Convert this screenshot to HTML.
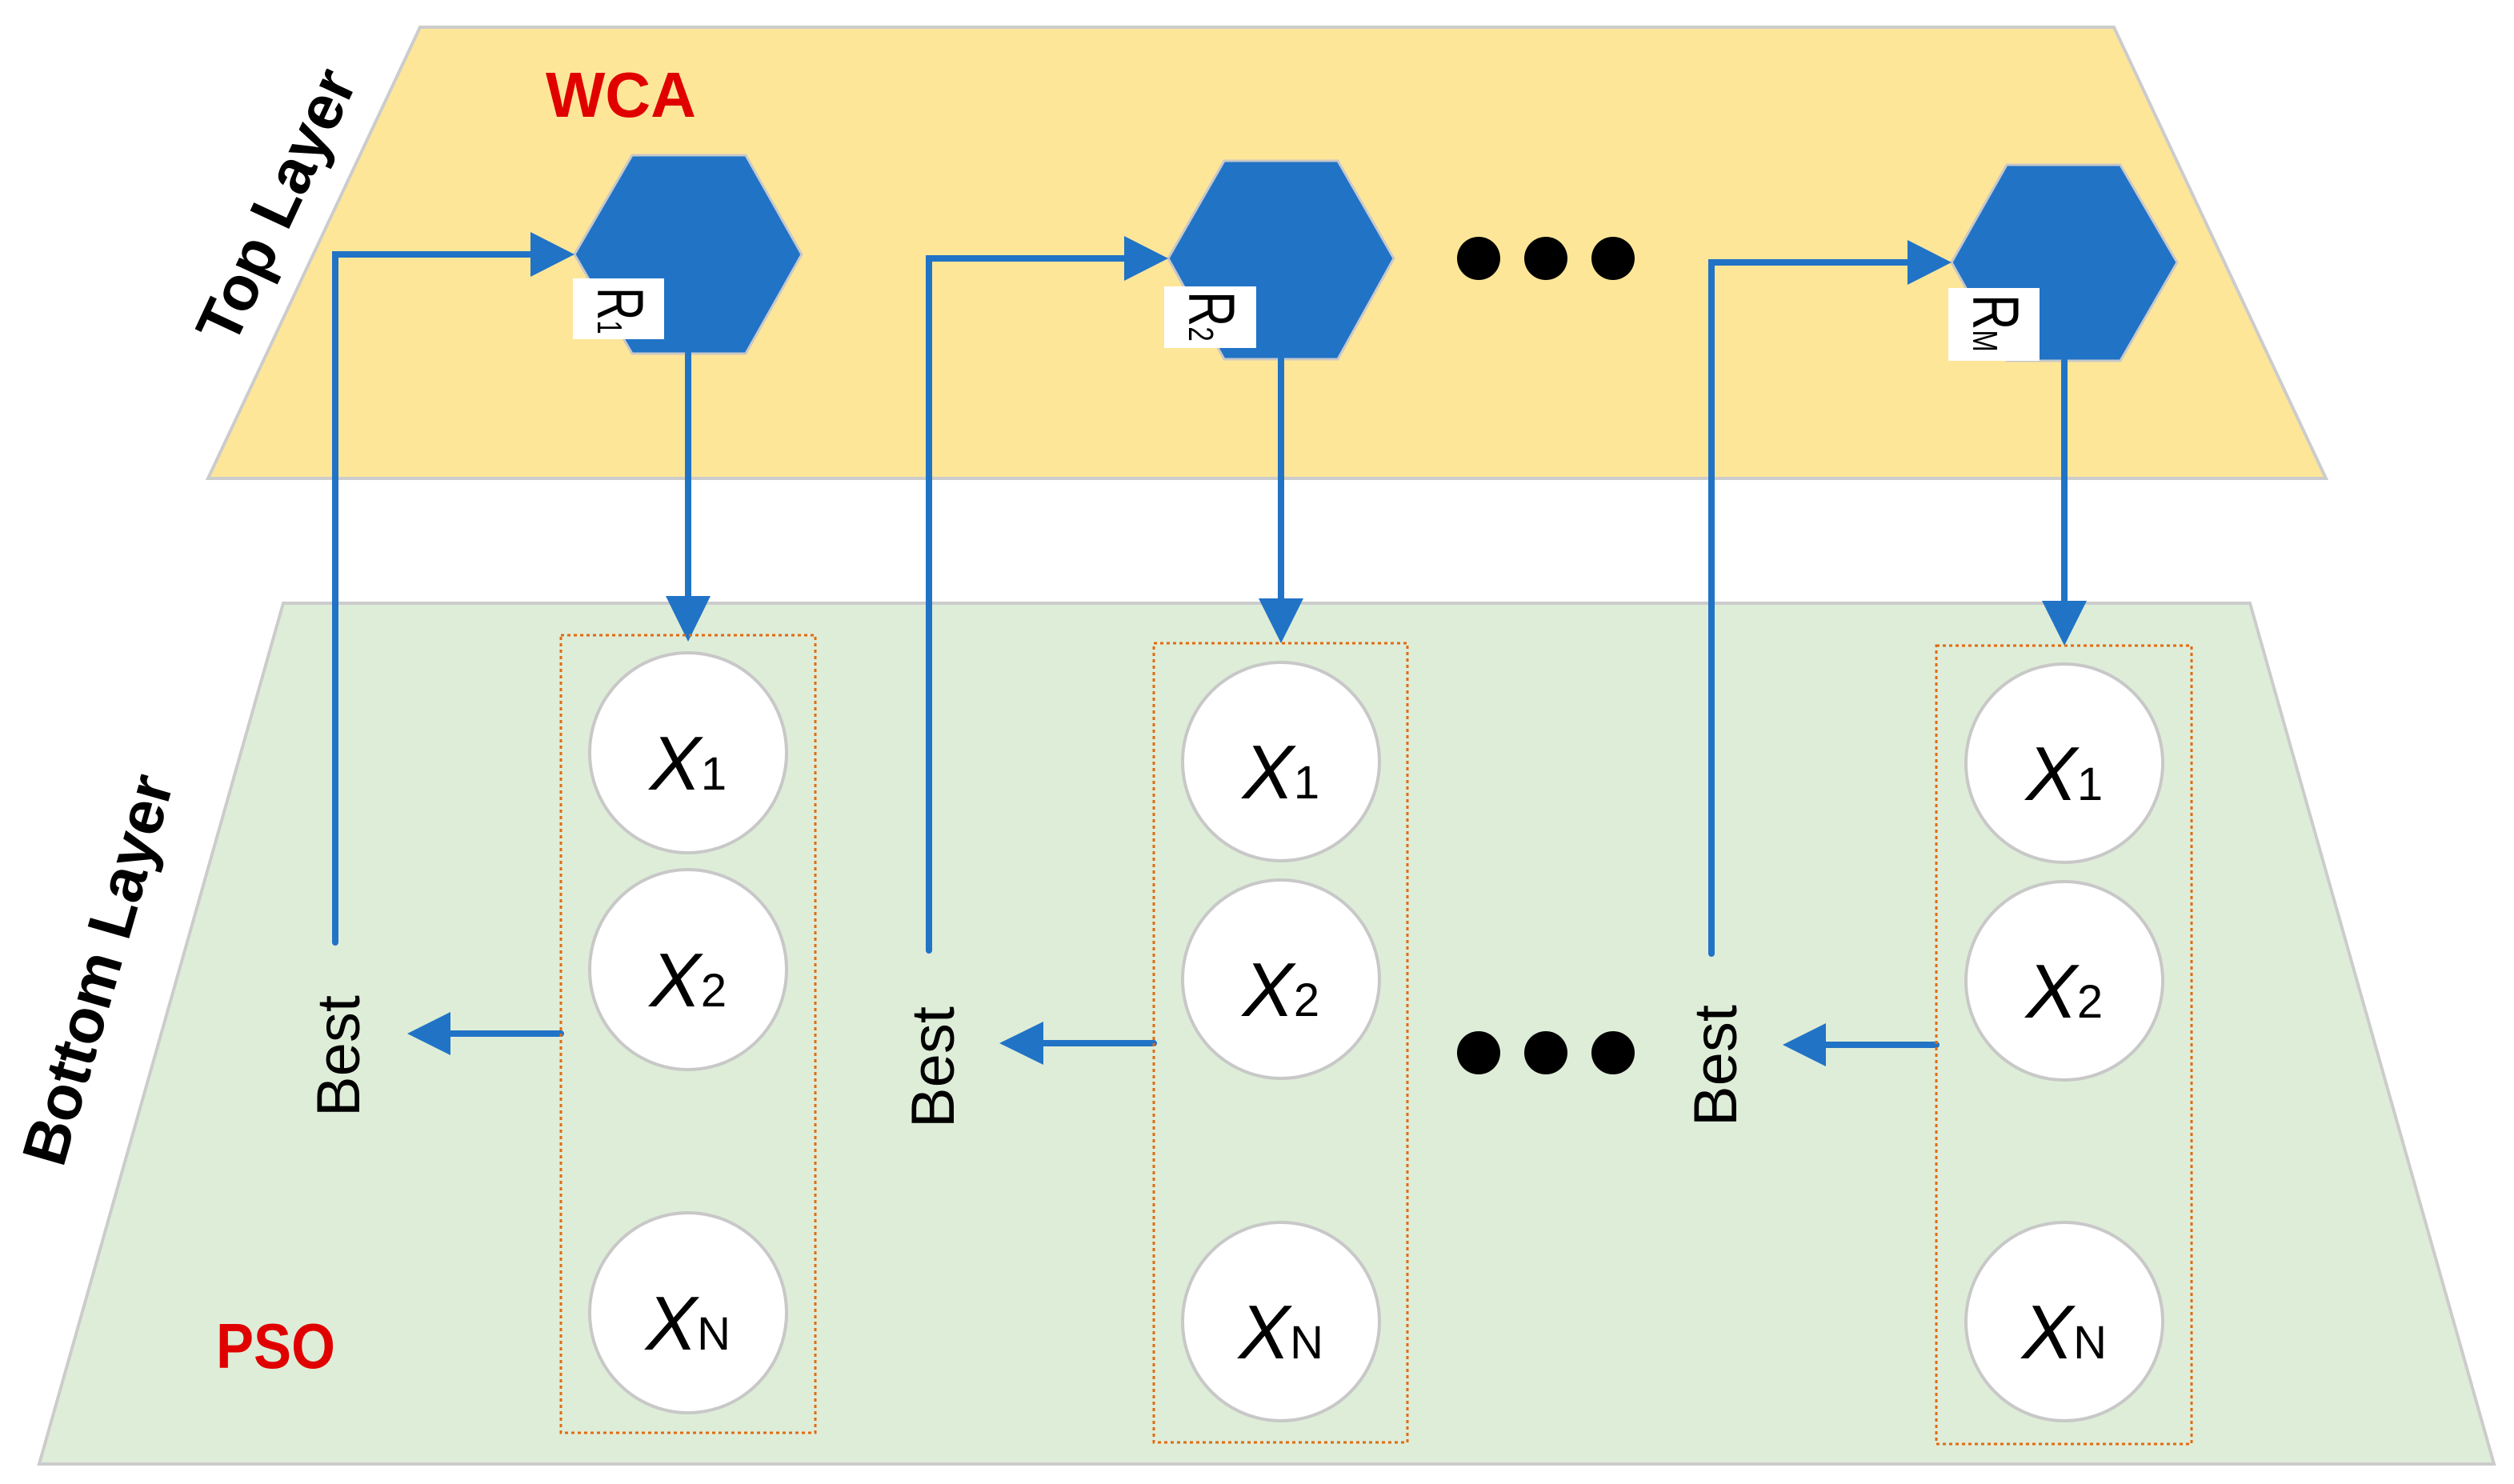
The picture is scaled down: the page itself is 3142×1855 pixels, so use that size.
<!DOCTYPE html>
<html><head><meta charset="utf-8"><style>
html,body{margin:0;padding:0;background:#fff;}
svg{display:block;}
text{font-family:"Liberation Sans",sans-serif;}
</style></head><body>
<svg width="3142" height="1855" viewBox="0 0 3142 1855" xmlns="http://www.w3.org/2000/svg">
<defs>
<clipPath id="c1"><rect x="716" y="348" width="114" height="76"/></clipPath>
<clipPath id="c2"><rect x="1455" y="358" width="115" height="77"/></clipPath>
<clipPath id="c3"><rect x="2435" y="362" width="114" height="93"/></clipPath>
</defs>
<polygon points="525,34 2642,34 2907,598 260,598" fill="#fee699" stroke="#cccccc" stroke-width="4"/>
<polygon points="354,754 2812,754 3117,1830 49,1830" fill="#deedd8" stroke="#cccccc" stroke-width="4"/>

<text x="0" y="0" transform="translate(345,257) rotate(-65)" font-size="78" font-weight="bold" text-anchor="middle" dominant-baseline="central">Top Layer</text>
<text x="0" y="0" transform="translate(122,1212) rotate(-74)" font-size="78" font-weight="bold" text-anchor="middle" dominant-baseline="central">Bottom Layer</text>
<text x="682" y="146" font-size="80" font-weight="bold" fill="#e00000" textLength="188" lengthAdjust="spacingAndGlyphs">WCA</text>
<text x="270" y="1710" font-size="80" font-weight="bold" fill="#e00000" textLength="149" lengthAdjust="spacingAndGlyphs">PSO</text>

<g fill="#000">
<circle cx="1848" cy="323" r="27"/><circle cx="1932" cy="323" r="27"/><circle cx="2016" cy="323" r="27"/>
<circle cx="1848" cy="1316" r="27"/><circle cx="1932" cy="1316" r="27"/><circle cx="2016" cy="1316" r="27"/>
</g>

<g fill="#2173c6" stroke="#c8c8c8" stroke-width="3">
<polygon points="718,318 790,194 932,194 1002,318 932,442 790,442"/>
<polygon points="1460,323 1530,201 1672,201 1742,323 1672,449 1530,449"/>
<polygon points="2439,328 2508,206 2650,206 2721,328 2650,451 2508,451"/>
</g>

<rect x="716" y="348" width="114" height="76" fill="#fff"/>
<g clip-path="url(#c1)"><text transform="translate(747,359) rotate(90) scale(0.7,1)" font-size="82">R<tspan font-size="44">1</tspan></text></g>
<rect x="1455" y="358" width="115" height="77" fill="#fff"/>
<g clip-path="url(#c2)"><text transform="translate(1486,364) rotate(90) scale(0.75,1)" font-size="82">R<tspan font-size="44">2</tspan></text></g>
<rect x="2435" y="360" width="114" height="91" fill="#fff"/>
<g clip-path="url(#c3)"><text transform="translate(2466,368) rotate(90) scale(0.75,1)" font-size="82">R<tspan font-size="44">M</tspan></text></g>

<g stroke="#2173c6" stroke-width="8" fill="none" stroke-linecap="round">
<polyline points="419,1178 419,318 665,318"/>
<line x1="860" y1="442" x2="860" y2="745"/>
<polyline points="1161,1188 1161,323 1406,323"/>
<line x1="1601" y1="449" x2="1601" y2="750"/>
<polyline points="2139,1192 2139,328 2385,328"/>
<line x1="2580" y1="451" x2="2580" y2="755"/>
</g>
<g fill="#2173c6">
<polygon points="718,318 663,290 663,346"/>
<polygon points="1460,323 1405,295 1405,351"/>
<polygon points="2439,328 2384,300 2384,356"/>
</g>

<!-- column 1 bottom -->
<g transform="translate(0,-3)">
<g stroke="#2173c6" stroke-width="8" fill="none" stroke-linecap="round"><line x1="701" y1="1295" x2="560" y2="1295"/></g>
<g fill="#2173c6"><polygon points="860,805 832,748 888,748"/><polygon points="509,1295 563,1268 563,1322"/></g>
<text transform="translate(449,1323) rotate(-90)" font-size="76" text-anchor="middle">Best</text>
<rect x="701" y="797" width="318" height="997" fill="none" stroke="#e26b10" stroke-width="3" stroke-dasharray="4,4"/>
<g fill="#fff" stroke="#c8c8c8" stroke-width="4">
<ellipse cx="860" cy="944" rx="123" ry="125"/><ellipse cx="860" cy="1215" rx="123" ry="125"/><ellipse cx="860" cy="1644" rx="123" ry="125"/>
</g>
<g font-size="96" text-anchor="middle">
<text x="860" y="990"><tspan font-style="italic">X</tspan><tspan font-size="58">1</tspan></text>
<text x="860" y="1261"><tspan font-style="italic">X</tspan><tspan font-size="58">2</tspan></text>
<text x="860" y="1690"><tspan font-style="italic">X</tspan><tspan font-size="58">N</tspan></text>
</g>
</g>

<!-- column 2 bottom -->
<g transform="translate(0,-6)">
<g stroke="#2173c6" stroke-width="8" fill="none" stroke-linecap="round"><line x1="1442" y1="1310" x2="1300" y2="1310"/></g>
<g fill="#2173c6"><polygon points="1601,810 1573,754 1629,754"/><polygon points="1249,1310 1304,1283 1304,1337"/></g>
<text transform="translate(1192,1340) rotate(-90)" font-size="76" text-anchor="middle">Best</text>
<rect x="1442" y="810" width="317" height="999" fill="none" stroke="#e26b10" stroke-width="3" stroke-dasharray="4,4"/>
<g fill="#fff" stroke="#c8c8c8" stroke-width="4">
<ellipse cx="1601" cy="958" rx="123" ry="124"/><ellipse cx="1601" cy="1230" rx="123" ry="124"/><ellipse cx="1601" cy="1658" rx="123" ry="124"/>
</g>
<g font-size="96" text-anchor="middle">
<text x="1601" y="1004"><tspan font-style="italic">X</tspan><tspan font-size="58">1</tspan></text>
<text x="1601" y="1276"><tspan font-style="italic">X</tspan><tspan font-size="58">2</tspan></text>
<text x="1601" y="1704"><tspan font-style="italic">X</tspan><tspan font-size="58">N</tspan></text>
</g>
</g>

<!-- column 3 bottom -->
<g transform="translate(0,-9)">
<g stroke="#2173c6" stroke-width="8" fill="none" stroke-linecap="round"><line x1="2420" y1="1315" x2="2278" y2="1315"/></g>
<g fill="#2173c6"><polygon points="2580,816 2552,760 2608,760"/><polygon points="2228,1315 2282,1288 2282,1342"/></g>
<text transform="translate(2170,1341) rotate(-90)" font-size="76" text-anchor="middle">Best</text>
<rect x="2420" y="816" width="319" height="998" fill="none" stroke="#e26b10" stroke-width="3" stroke-dasharray="4,4"/>
<g fill="#fff" stroke="#c8c8c8" stroke-width="4">
<ellipse cx="2580" cy="963" rx="123" ry="124"/><ellipse cx="2580" cy="1235" rx="123" ry="124"/><ellipse cx="2580" cy="1661" rx="123" ry="124"/>
</g>
<g font-size="96" text-anchor="middle">
<text x="2580" y="1009"><tspan font-style="italic">X</tspan><tspan font-size="58">1</tspan></text>
<text x="2580" y="1281"><tspan font-style="italic">X</tspan><tspan font-size="58">2</tspan></text>
<text x="2580" y="1707"><tspan font-style="italic">X</tspan><tspan font-size="58">N</tspan></text>
</g>
</g>
</svg>
</body></html>
